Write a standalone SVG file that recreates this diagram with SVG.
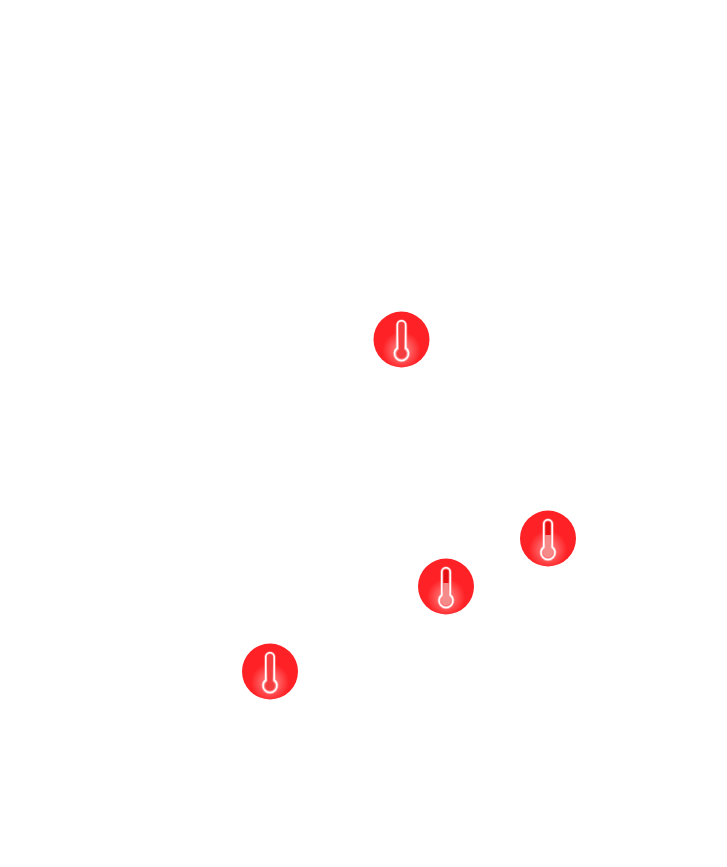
<svg xmlns="http://www.w3.org/2000/svg" xmlns:xlink="http://www.w3.org/1999/xlink" width="727" height="867" viewBox="0 0 727 867">
<style>
.bg{fill:url(#glow)}
.halo{fill:none;stroke:#ffc8c8;stroke-width:3.200;opacity:.45}
.out{fill:none;stroke:#fff;stroke-width:1.600}
.lev{fill:#f58a8a}
.top{fill:#e60f12}
.full{fill:#f23c3e}
</style>
<defs>
<radialGradient id="glow" gradientUnits="userSpaceOnUse" cx="0" cy="11" r="19">
<stop offset="0" stop-color="#ffa8a8"/>
<stop offset=".4" stop-color="#ff6466"/>
<stop offset="1" stop-color="#fe2226"/>
</radialGradient>
<path id="tube" d="M-4.200-14.500A4.200 4.200 0 0 1 4.200-14.500V8.500A7 7 0 1 1-4.200 8.500Z"/>
<path id="fillall" d="M-2.600-14.500A2.600 2.600 0 0 1 2.600-14.500V10A4.800 4.800 0 1 1-2.600 10Z"/>
<g id="thermo-full">
<circle class="bg" r="28"/>
<use href="#tube" xlink:href="#tube" class="halo"/>
<use href="#fillall" xlink:href="#fillall" class="full"/>
<use href="#tube" xlink:href="#tube" class="out"/>
</g>
<g id="thermo-level">
<circle class="bg" r="28"/>
<use href="#tube" xlink:href="#tube" class="halo"/>
<use href="#fillall" xlink:href="#fillall" class="lev"/>
<path class="top" d="M-2.600-14.500A2.600 2.600 0 0 1 2.600-14.500V-3.500H-2.600Z"/>
<use href="#tube" xlink:href="#tube" class="out"/>
</g>
</defs>
<rect width="727" height="867" fill="#fff"/>
<g id="connectors"/>
<g id="node-1"><use xlink:href="#thermo-full" href="#thermo-full" x="401.500" y="339.500"/></g>
<g id="node-2"><use xlink:href="#thermo-level" href="#thermo-level" x="548" y="538.500"/></g>
<g id="node-3"><use xlink:href="#thermo-level" href="#thermo-level" x="446" y="586.500"/></g>
<g id="node-4"><use xlink:href="#thermo-full" href="#thermo-full" x="270" y="671.500"/></g>
</svg>
